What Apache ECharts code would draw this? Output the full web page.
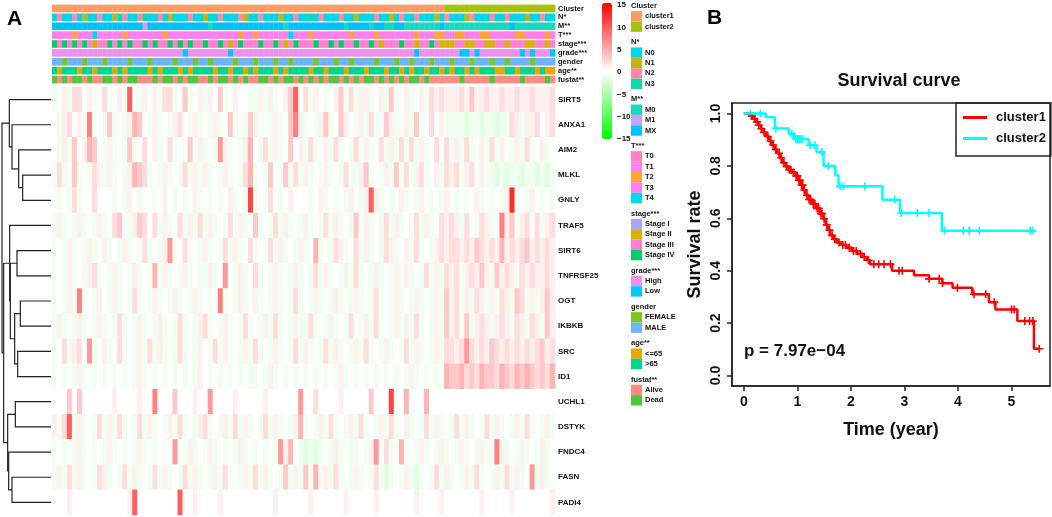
<!DOCTYPE html>
<html>
<head>
<meta charset="utf-8">
<script src="https://cdn.jsdelivr.net/npm/echarts@6/dist/echarts.min.js"></script>
<style>
html, body { margin: 0; padding: 0; background: #fff; }
#main { width: 1052px; height: 517px; }
</style>
</head>
<body>
<div id="main"></div>
<script>
// ---- panel A: heatmap ----
const genes = ['SIRT5', 'ANXA1', 'AIM2', 'MLKL', 'GNLY', 'TRAF5', 'SIRT6', 'TNFRSF25', 'OGT',
  'IKBKB', 'SRC', 'ID1', 'UCHL1', 'DSTYK', 'FNDC4', 'FASN', 'PADI4'];

// one char per sample column (100 columns, 78 cluster1 + 22 cluster2)
// a/b = pale green, 0 = white, 1..9 = pink -> red
const exprRows = [
  'b01b2201b0 2b01b70b10 1b22b03b01 b103b0100b b1b1b0137b 2b10b013b2 b11b01b3b0 1b01b21211 1213112112 1121121112',
  '0b1201b6b0 b3b0b1430b 1b0b120b1b 0b1b03b0b3 1b0b1b0361 b0b13b0310 b1b2b031b0 1b3b0201bb bbabbabbab b21b112012',
  '0b1b301430 b1b0b3b020 1b02b0b3b1 b0b51b0b14 0b2b1b0301 b2b01b2b0b 2b1b02b1b2 b2b1b0202b 1b2b01b2b1 0b1b2b01b0',
  'b2b03b0b21 b1b0b1432b 0b1b0b2b1b 1b0b1b0b24 b0b30b3b2b 1b0b1b0b2b b13b0b1b3b 2b12b01b21 2b1201bbab abbabbabab',
  '0b0b2b0020 00b0b10b00 b010b0b01b 0b0b01b0b8 b0b20b0100 0b01b0b0b1 0b171b0b01 b0b10b0b10 b0b01b0b0b 19b0b10b0b',
  'b1b0b1b0b1 b0230b1320 2b1b02b1b2 b1b0b2b1b0 3b0b2b1b0b 1b0b2b1b0b 3b1b0b2b1b 0b2b1b0212 1b20b21b06 13b1202b12',
  'b0b1b0b1b0 1b0b1b0b2b 0b15b02b0b 1b0b2b1b02 b0b2b1b0b1 b04b0b21b0 2b1b0b21b0 1b2b0b1212 2121321214 1212312121',
  'b0b1b0b12b 0b1b0b1b0b 4b1b0b1b0b b1b050b1b0 2b0b1b0b1b 0b2b1b0b1b 2b0b1b0b1b 1b0b2b1b21 2b12131b31 21b2121121',
  'b0b1b6b0b1 0b1b0b2b0b 1b0b1b0b1b 0b06b0b1b0 1b0b1b0b2b 0b1b0b1b0b 1b0b2b0b1b 0b1b0b1b31 2b1b21b1b2 1b32b1b131',
  'b1b0b1b0b1 b0b2b0b1b0 b1b0b2b0b1 2b0b1b0b2b 0b1b2b0b1b b2b0b1b0b2 0b1b2b0b1b 1b2b0b1b31 2b3b121b12 1b21b21b31',
  'b02b1205b0 1b02b0b1b2 b1b0b2b0b1 0b2b1b0b1b 2b0b1b0b2b 1b0b2b1b0b 1b2b0b1b0b 2b1b0b1b22 1252121321 2121212312',
  'b0b0b1b0b0 b0b0b0b1b0 b0b0b0b0b1 0b0b0b0b0b b0b1b0b0b0 b0b0b0b1b0 b0b0b0b0b0 b1b0b0b043 3423243324 3243432324',
  '0003030000 0010000100 6000300010 0500001000 0010000005 0020000100 0003000800 4000400000 0000000000 0000000000',
  '1b27b1b0b2 b1b2b0b2b1 b0b1b2b0b1 2b0b1b2b1b 0b2b1b0b14 b0b1b2b0b1 b2b0b1b2b0 1b0b2b1b0b 2b1b0b2b1b 0b1b2b0b1b',
  'b0b0b1b0b0 b1b0b0b1b0 b0b050b1b0 b1b0b0b1b0 b0b0b5140b abab0b1b0b b0b1502b04 b0b1b0b1b0 b1b0b1b061 b0b1b0b1b0',
  'b1b2b1b0b2 1b0b2b1b0b 2b1b0b2b1b 0b1b2b0b1b 2b1b0b3b1b 3b4b1b2b0b 1b0b2bab0b 1bab0b2b1b 0b1b2b0b1b 2b1b05b1b0',
  '0001000000 0000017000 0000070010 0001000000 0000100000 0100000010 0000100000 0010000100 0000010000 0100000001'
];
const exprLevels = { a: -1.8, b: -0.8, 0: 0, 1: 0.9, 2: 2, 3: 3.2, 4: 4.5, 5: 6, 6: 7.5, 7: 9.5, 8: 11, 9: 12.5 };
const colorTicks = [-15, 15];

// column annotations, one char per sample = level index
const annNames = ['Cluster', 'N*', 'M**', 'T***', 'stage***', 'grade***', 'gender', 'age**', 'fustat**'];
const annCluster = '0000000000 0000000000 0000000000 0000000000 0000000000 0000000000 0000000000 0000000011 1111111111 1111111111';
const annN       = '0200201002 0010200230 0201000200 1002000210 0200010020 0302000200 1000200102 0020001020 0012000200 2000100200';
const annM       = '2222222222 2222222212 2222222222 2022222222 2222220222 2222222202 2220220022 0000000200 0000000000 0200000000';
const annT       = '3313233343 1333233133 3323313333 3313333233 2333313433 3233333132 3333233313 3323332233 2233322333 3322333323';
const annStage   = '3232323212 2323232232 3223232322 3223212322 2322321232 2232232322 3223212223 2212232111 2211221122 1222112212';
const annGrade   = '0000000000 0000000000 0000001000 0000010000 0000000000 0000000000 0000000000 0010000000 0110100000 0001010001';
const annGender  = '1101110111 0111101110 1111011101 1011110111 0111011011 1101110110 1111011101 1011101110 1110111011 0111101111';
const annAge     = '1011101101 1101011110 1011101011 1101101101 0111010111 1011011101 1101110110 1011011010 1101011100 1101110100';
const annFustat  = '1010110100 1101011000 1011010110 0101101010 0110101101 0101011010 1011010101 0110100000 0100000100 0001000010';
const annRows = [annCluster, annN, annM, annT, annStage, annGrade, annGender, annAge, annFustat];

const annLevels = [
  ['cluster1', 'cluster2'],
  ['N0', 'N1', 'N2', 'N3'],
  ['M0', 'M1', 'MX'],
  ['T0', 'T1', 'T2', 'T3', 'T4'],
  ['Stage I', 'Stage II', 'Stage III', 'Stage IV'],
  ['High', 'Low'],
  ['FEMALE', 'MALE'],
  ['<=65', '>65'],
  ['Alive', 'Dead']
];
const annColors = [
  ['#F99D66', '#A8C20A'],
  ['#00D6E6', '#C0B512', '#FF8AA8', '#12D8A6'],
  ['#1AD8BC', '#C9A2F2', '#00C0FF'],
  ['#FF80C4', '#FF82F2', '#FFA436', '#FF7FEF', '#00D6F0'],
  ['#A8A8F2', '#D6B300', '#FF7FD2', '#00CE66'],
  ['#EE90EE', '#00C6FF'],
  ['#80C61A', '#6CB6FF'],
  ['#E9A800', '#00D690'],
  ['#FF8C80', '#4CC83E']
];

// dendrogram merges: [childA, childB, height]; leaves 0..16, new nodes from 17
const merges = [
  [3, 4, 0.85], [2, 17, 0.97], [1, 18, 1.17], [0, 19, 1.25],
  [6, 7, 1.02], [8, 9, 0.92], [10, 11, 1.00], [22, 23, 1.09], [21, 24, 1.22], [5, 25, 1.24],
  [12, 13, 1.07], [15, 16, 1.17], [14, 28, 1.27], [27, 29, 1.30],
  [26, 30, 1.42], [20, 31, 1.47]
];

// ---- panel B: Kaplan-Meier ----
const km1 = [[0, 1], [0.13, 0.99], [0.17, 0.98], [0.22, 0.968], [0.27, 0.955], [0.32, 0.942], [0.37, 0.928],
  [0.42, 0.912], [0.47, 0.895], [0.52, 0.88], [0.57, 0.863], [0.62, 0.848], [0.67, 0.83], [0.72, 0.812],
  [0.78, 0.798], [0.84, 0.785], [0.90, 0.775], [0.97, 0.762], [1.02, 0.745], [1.07, 0.727], [1.11, 0.708],
  [1.16, 0.688], [1.21, 0.672], [1.28, 0.655], [1.35, 0.638], [1.42, 0.618], [1.48, 0.598], [1.53, 0.575],
  [1.57, 0.555], [1.61, 0.535], [1.67, 0.52], [1.74, 0.508], [1.83, 0.498], [1.92, 0.488], [2.02, 0.475],
  [2.12, 0.465], [2.22, 0.452], [2.30, 0.44], [2.36, 0.425], [2.77, 0.40], [3.18, 0.383], [3.46, 0.369],
  [3.71, 0.352], [3.90, 0.335], [4.27, 0.31], [4.58, 0.28], [4.70, 0.252], [5.11, 0.208], [5.42, 0.102], [5.52, 0.102]];
const km2 = [[0, 1], [0.41, 0.987], [0.58, 0.943], [0.84, 0.923], [0.94, 0.903], [1.21, 0.879], [1.36, 0.853],
  [1.49, 0.80], [1.71, 0.764], [1.77, 0.722], [2.59, 0.671], [2.92, 0.62], [3.70, 0.552], [5.45, 0.552]];
const cens1 = [0.15, 0.2, 0.25, 0.28, 0.33, 0.38, 0.45, 0.5, 0.55, 0.6, 0.66, 0.7, 0.75, 0.8, 0.85, 0.88, 0.93,
  0.98, 1.0, 1.03, 1.05, 1.08, 1.1, 1.13, 1.18, 1.22, 1.25, 1.3, 1.33, 1.37, 1.4, 1.44, 1.46, 1.5, 1.55, 1.6,
  1.65, 1.7, 1.78, 1.85, 1.9, 1.97, 2.05, 2.1, 2.18, 2.25, 2.33, 2.43, 2.52, 2.62, 2.74, 2.90, 2.96, 3.46,
  3.65, 3.71, 3.99, 4.30, 4.52, 4.68, 5.0, 5.05, 5.25, 5.34, 5.40, 5.52];
const cens2 = [0.125, 0.31, 0.60, 0.90, 0.97, 1.0, 1.02, 1.04, 1.06, 1.1, 1.24, 1.33, 1.46, 1.58, 1.80, 1.86,
  2.26, 2.82, 2.94, 3.24, 3.46, 3.75, 4.10, 4.21, 4.40, 5.35, 5.39];
const timeTicks = [0, 1, 2, 3, 4, 5];
const rateTicks = [0, 0.2, 0.4, 0.6, 0.8, 1.0];

// ---------------------------------------------------------------
const FONT = '"Liberation Sans", Arial, Helvetica, sans-serif';
const chars = s => s.replace(/ /g, '').split('');
const colCats = chars(annCluster).map((_, i) => i);

const heatData = [];
exprRows.forEach((s, r) => chars(s).forEach((ch, c) => heatData.push([c, r, exprLevels[ch]])));

const annData = [];
annRows.forEach((s, r) => chars(s).forEach((ch, c) => annData.push([c, r, +ch])));

// dendrogram segments
const nodeY = genes.map((_, i) => i);
const nodeH = genes.map(() => 0);
const dendroLines = [];
merges.forEach(([a, b, h]) => {
  dendroLines.push({ coords: [[nodeH[a], nodeY[a]], [h, nodeY[a]], [h, nodeY[b]], [nodeH[b], nodeY[b]]] });
  nodeY.push((nodeY[a] + nodeY[b]) / 2);
  nodeH.push(h);
});

function survAt(km, t) {
  let s = km[0][1];
  km.forEach(p => { if (p[0] <= t) s = p[1]; });
  return s;
}
const plus = 'path://M4,0h2v4h4v2h-4v4h-2v-4h-4v-2h4z';

// annotation legend (right of heatmap)
const legendEls = [];
let ly = 6;
annNames.forEach((name, g) => {
  legendEls.push({ type: 'text', x: 631, y: ly,
    style: { text: name, fontFamily: FONT, fontWeight: 'bold', fontSize: 7.5, fill: '#111', verticalAlign: 'middle' } });
  let iy = ly + 10.3;
  annLevels[g].forEach((lab, k) => {
    legendEls.push({ type: 'rect', shape: { x: 631, y: iy - 5.2, width: 11, height: 10.4 },
      style: { fill: annColors[g][k] } });
    legendEls.push({ type: 'text', x: 645, y: iy,
      style: { text: lab, fontFamily: FONT, fontWeight: 'bold', fontSize: 7.5, fill: '#111', verticalAlign: 'middle' } });
    iy += 10.4;
  });
  ly = iy - 10.4 + 15.6;
});

const kmAxisLine = { show: true, onZero: false, lineStyle: { color: '#222', width: 1.5 } };
const kmTick = { show: true, inside: false, length: 5, lineStyle: { color: '#222', width: 1.5 } };

const chart = echarts.init(document.getElementById('main'));
const option = {
  animation: false,
  backgroundColor: '#fff',
  textStyle: { fontFamily: FONT },
  grid: [
    { left: 52, top: 4, width: 503, height: 80, outerBoundsMode: 'none' },
    { left: 52, top: 87, width: 503, height: 428, outerBoundsMode: 'none' },
    { left: 2, top: 87, width: 49, height: 428, outerBoundsMode: 'none' },
    { left: 602, top: 5, width: 10, height: 134, outerBoundsMode: 'none' },
    { left: 732, top: 103, width: 318, height: 283, show: true, borderColor: '#222', borderWidth: 1.5,
      backgroundColor: 'transparent', outerBoundsMode: 'none' }
  ],
  xAxis: [
    { gridIndex: 0, type: 'category', data: colCats, show: false },
    { gridIndex: 1, type: 'category', data: colCats, show: false },
    { gridIndex: 2, type: 'value', min: 0, max: 1.47, inverse: true, show: false },
    { gridIndex: 3, type: 'value', show: false },
    { gridIndex: 4, type: 'value', min: -0.22, max: 5.72, position: 'bottom',
      axisLine: kmAxisLine, splitLine: { show: false },
      axisTick: Object.assign({ customValues: timeTicks }, kmTick),
      axisLabel: { customValues: timeTicks, margin: 9, fontSize: 14, fontWeight: 'bold', color: '#111' },
      name: 'Time (year)', nameLocation: 'middle', nameGap: 35,
      nameTextStyle: { fontSize: 18, fontWeight: 'bold', color: '#111' } }
  ],
  yAxis: [
    { gridIndex: 0, type: 'category', data: annNames, inverse: true, position: 'right',
      axisLine: { show: false }, axisTick: { show: false },
      axisLabel: { interval: 0, margin: 3, fontSize: 7.5, fontWeight: 'bold', color: '#111' } },
    { gridIndex: 1, type: 'category', data: genes, inverse: true, position: 'right',
      axisLine: { show: false }, axisTick: { show: false },
      axisLabel: { interval: 0, margin: 3, fontSize: 8, fontWeight: 'bold', color: '#111' } },
    { gridIndex: 2, type: 'value', min: -0.5, max: genes.length - 0.5, inverse: true, show: false },
    { gridIndex: 3, type: 'value', min: colorTicks[0], max: colorTicks[1], interval: 5, position: 'right',
      axisLine: { show: false }, axisTick: { show: false }, splitLine: { show: false },
      axisLabel: { margin: 5, fontSize: 8, fontWeight: 'bold', color: '#111',
        formatter: v => (v < 0 ? '\u2212' + (-v) : String(v)) } },
    { gridIndex: 4, type: 'value', min: -0.04, max: 1.04, position: 'left',
      axisLine: kmAxisLine, splitLine: { show: false },
      axisTick: Object.assign({ customValues: rateTicks }, kmTick),
      axisLabel: { customValues: rateTicks, rotate: 90, margin: 9, fontSize: 14, fontWeight: 'bold', color: '#111',
        formatter: v => v.toFixed(1) },
      name: 'Survival rate', nameLocation: 'middle', nameGap: 28, nameRotate: 90,
      nameTextStyle: { fontSize: 18, fontWeight: 'bold', color: '#111' } }
  ],
  visualMap: {
    type: 'continuous', seriesIndex: 1, dimension: 2,
    min: colorTicks[0], max: colorTicks[1], calculable: false, realtime: false,
    left: 602, top: 3, itemWidth: 10, itemHeight: 136, padding: 0, text: ['', ''],
    inRange: { color: ['#00FF00', '#FFFFFF', '#FF0000'] }
  },
  legend: {
    data: ['cluster1', 'cluster2'], orient: 'vertical', left: 956, top: 103,
    icon: 'rect', itemWidth: 24, itemHeight: 3, itemGap: 8,
    borderColor: '#222', borderWidth: 1.5, borderRadius: 0, padding: [8, 5, 11, 7],
    textStyle: { fontSize: 13, fontWeight: 'bold', color: '#111', padding: [0, 0, 0, 4] },
    selectedMode: false
  },
  graphic: [
    { type: 'text', x: 7, y: 19, style: { text: 'A', fontFamily: FONT, fontWeight: 'bold', fontSize: 21, fill: '#000', verticalAlign: 'middle' } },
    { type: 'text', x: 707, y: 18, style: { text: 'B', fontFamily: FONT, fontWeight: 'bold', fontSize: 21, fill: '#000', verticalAlign: 'middle' } },
    { type: 'text', x: 899, y: 81, style: { text: 'Survival curve', fontFamily: FONT, fontWeight: 'bold', fontSize: 18, fill: '#111', align: 'center', verticalAlign: 'middle' } },
    { type: 'text', x: 744, y: 351, style: { text: 'p = 7.97e\u221204', fontFamily: FONT, fontWeight: 'bold', fontSize: 17, fill: '#111', verticalAlign: 'middle' } }
  ].concat(legendEls),
  series: [
    {
      type: 'custom', xAxisIndex: 0, yAxisIndex: 0, data: annData, silent: true,
      renderItem: (params, api) => {
        const p = api.coord([api.value(0), api.value(1)]);
        const s = api.size([1, 1]);
        return {
          type: 'rect',
          shape: { x: p[0] - s[0] / 2, y: p[1] - s[1] / 2 + 0.65, width: s[0] + 0.4, height: s[1] - 1.3 },
          style: { fill: annColors[api.value(1)][api.value(2)] }
        };
      }
    },
    {
      type: 'heatmap', xAxisIndex: 1, yAxisIndex: 1, data: heatData, silent: true,
      itemStyle: { borderWidth: 0 }
    },
    {
      type: 'lines', coordinateSystem: 'cartesian2d', xAxisIndex: 2, yAxisIndex: 2, polyline: true,
      data: dendroLines, silent: true, lineStyle: { color: '#222', width: 1.2, opacity: 1 }
    },
    {
      name: 'cluster1', type: 'line', xAxisIndex: 4, yAxisIndex: 4, step: 'end', data: km1,
      symbol: 'none', color: '#FF0000', lineStyle: { width: 2.5, color: '#FF0000' }
    },
    {
      name: 'cens1', type: 'scatter', xAxisIndex: 4, yAxisIndex: 4,
      data: cens1.map(t => [t, survAt(km1, t)]), symbol: plus, symbolSize: 8,
      itemStyle: { color: '#FF0000', opacity: 1 }
    },
    {
      name: 'cluster2', type: 'line', xAxisIndex: 4, yAxisIndex: 4, step: 'end', data: km2,
      symbol: 'none', color: '#00FFFF', lineStyle: { width: 2.5, color: '#00FFFF' }
    },
    {
      name: 'cens2', type: 'scatter', xAxisIndex: 4, yAxisIndex: 4,
      data: cens2.map(t => [t, survAt(km2, t)]), symbol: plus, symbolSize: 8,
      itemStyle: { color: '#00FFFF', opacity: 1 }
    }
  ]
};
chart.setOption(option);
</script>
</body>
</html>
